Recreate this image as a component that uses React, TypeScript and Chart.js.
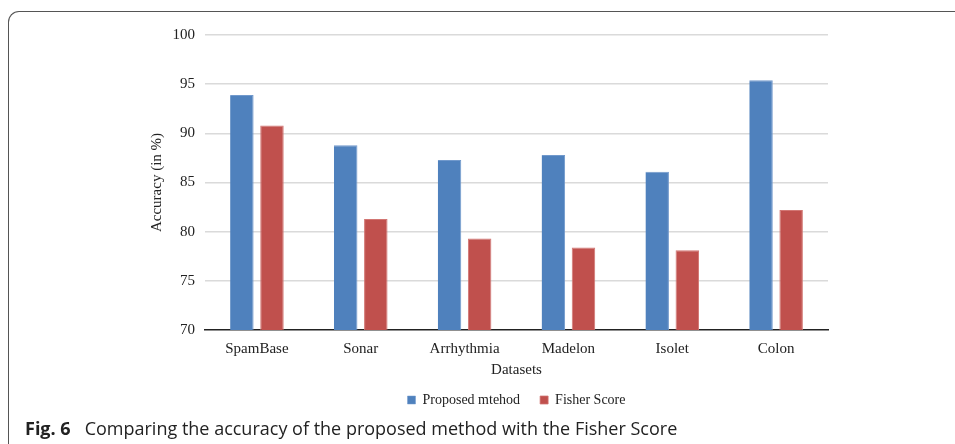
import React, { useEffect, useRef } from "react";
import { Chart, registerables } from "chart.js";

Chart.register(...registerables);

const datasets = ["SpamBase", "Sonar", "Arrhythmia", "Madelon", "Isolet", "Colon"];
const proposedMethod = [93.9, 88.8, 87.3, 87.8, 86.1, 95.4];
const fisherScore = [90.8, 81.3, 79.3, 78.4, 78.1, 82.2];
const yTicks = [70, 75, 80, 85, 90, 95, 100];

const seriesNames = ["Proposed mtehod", "Fisher Score"];
const BLUE = "#4f81bd";
const RED = "#c0504d";
const SERIF = "'Liberation Serif', 'Times New Roman', serif";

export default function App() {
  const canvasRef = useRef<HTMLCanvasElement | null>(null);

  useEffect(() => {
    const canvas = canvasRef.current;
    if (!canvas) return;
    const chart = new Chart(canvas, {
      type: "bar",
      data: {
        labels: datasets,
        datasets: [
          {
            label: seriesNames[0],
            data: proposedMethod,
            backgroundColor: BLUE,
            borderColor: "#7199cc",
            borderWidth: { top: 1, left: 0, right: 1, bottom: 0 },
            categoryPercentage: 0.58,
            barPercentage: 0.78,
          },
          {
            label: seriesNames[1],
            data: fisherScore,
            backgroundColor: RED,
            borderColor: "#d27673",
            borderWidth: { top: 1, left: 1, right: 1, bottom: 0 },
            categoryPercentage: 0.58,
            barPercentage: 0.78,
          },
        ],
      },
      options: {
        responsive: false,
        animation: false,
        devicePixelRatio: 1,
        layout: { padding: { left: 145, right: 127, top: 35, bottom: 27 } },
        plugins: {
          tooltip: { enabled: false },
          legend: {
            position: "bottom",
            fullSize: false,
            labels: {
              boxWidth: 8,
              boxHeight: 8,
              padding: 20,
              color: "#222",
              font: { family: SERIF, size: 14 },
            },
          },
        },
        scales: {
          x: {
            afterFit: (scale: any) => {
              scale.height = 43;
            },
            grid: { display: false, drawTicks: false },
            border: { display: true, color: "#222", width: 1.5 },
            ticks: {
              padding: 10,
              color: "#222",
              font: { family: SERIF, size: 15 },
            },
            title: {
              display: true,
              text: "Datasets",
              color: "#222",
              padding: { top: 0, bottom: -6 },
              font: { family: SERIF, size: 15 },
            },
          },
          y: {
            min: yTicks[0],
            max: yTicks[yTicks.length - 1],
            afterFit: (scale: any) => {
              scale.width = 60;
            },
            afterBuildTicks: (scale: any) => {
              scale.ticks = yTicks.map((v) => ({ value: v }));
            },
            grid: {
              drawTicks: false,
              lineWidth: 1.5,
              color: (ctx: any) => (ctx.tick && ctx.tick.value === yTicks[0] ? "rgba(0,0,0,0)" : "#dadada"),
            },
            border: { display: false },
            ticks: {
              padding: 10,
              color: "#222",
              font: { family: SERIF, size: 15 },
            },
            title: {
              display: true,
              text: "Accuracy (in %)",
              color: "#222",
              padding: { top: 3, bottom: 3 },
              font: { family: SERIF, size: 15 },
            },
          },
        },
      },
    });
    return () => chart.destroy();
  }, []);

  return (
    <div style={{ position: "absolute", left: 0, top: 0, width: 955, height: 444, overflow: "hidden", background: "#fff" }}>
      <div
        style={{
          position: "absolute",
          left: 8,
          top: 11,
          width: 960,
          height: 450,
          borderTop: "1.5px solid #555",
          borderLeft: "1.5px solid #555",
          borderTopLeftRadius: 11,
          boxSizing: "border-box",
        }}
      />
      <canvas ref={canvasRef} width={955} height={444} style={{ position: "absolute", left: 0, top: 0, width: 955, height: 444 }} />
      <div
        style={{
          position: "absolute",
          left: 25,
          top: 416,
          fontFamily: "'Open Sans', 'Noto Sans', sans-serif",
          fontSize: 18,
          color: "#222",
          whiteSpace: "nowrap",
          lineHeight: "24px",
        }}
      >
        <b>Fig. 6</b>
        <span style={{ marginLeft: 14 }}>Comparing the accuracy of the proposed method with the Fisher Score</span>
      </div>
    </div>
  );
}
